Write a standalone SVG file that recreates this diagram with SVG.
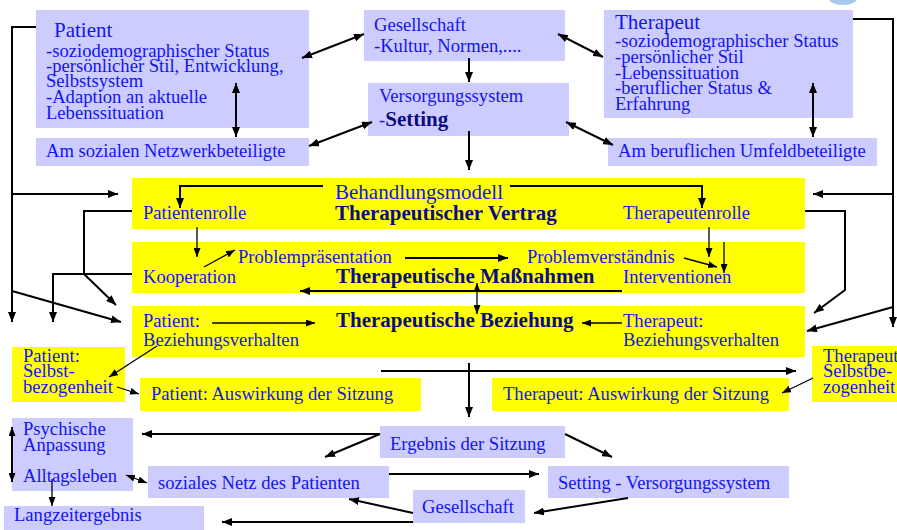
<svg xmlns="http://www.w3.org/2000/svg" width="897" height="530" viewBox="0 0 897 530">
<style>
  text { font-family: "Liberation Serif", "Times New Roman", serif; font-size: 18.6px; fill: #1414f0; }
  .t { font-size: 21px; }
  .b { font-size: 21px; font-weight: bold; fill: #0c0c80; }
  .lav { fill: #ccccff; }
  .yel { fill: #ffff00; }
  .c { stroke: #000; stroke-width: 2; fill: none; }
  .th { stroke: #000; stroke-width: 1.3; fill: none; }
</style>
<defs>
  <marker id="a" viewBox="0 0 10 8" refX="10" refY="4" markerWidth="10" markerHeight="8" markerUnits="userSpaceOnUse" orient="auto-start-reverse">
    <path d="M0,0 L10,4 L0,8 z" fill="#000"/>
  </marker>
  <marker id="s" viewBox="0 0 9 7" refX="9" refY="3.5" markerWidth="9" markerHeight="7" markerUnits="userSpaceOnUse" orient="auto-start-reverse">
    <path d="M0,0 L9,3.5 L0,7 z" fill="#000"/>
  </marker>
</defs>
<rect width="897" height="530" fill="#fff"/>
<ellipse cx="843" cy="-3" rx="15" ry="8" fill="#a9c8ee"/>

<g id="patient"><rect class="lav" x="36" y="10" width="273" height="118"/>
<text class="t" x="54" y="37">Patient</text>
<text x="46" y="57">-soziodemographischer Status</text>
<text x="46" y="72">-persönlicher Stil, Entwicklung,</text>
<text x="46" y="87">Selbstsystem</text>
<text x="46" y="103">-Adaption an aktuelle</text>
<text x="46" y="119">Lebenssituation</text></g>

<g id="netzwerk"><rect class="lav" x="36" y="138" width="273" height="28"/>
<text x="46" y="157">Am sozialen Netzwerkbeteiligte</text></g>

<g id="gesellschaft"><rect class="lav" x="364" y="10" width="201" height="51"/>
<text x="374" y="31">Gesellschaft</text>
<text x="374" y="52">-Kultur, Normen,....</text></g>

<g id="versorgung"><rect class="lav" x="368" y="83" width="201" height="53"/>
<text x="379" y="102">Versorgungssystem</text>
<text x="379" y="126">-<tspan class="b">Setting</tspan></text></g>

<g id="therapeut"><rect class="lav" x="604" y="10" width="249" height="108"/>
<text class="t" x="615" y="29">Therapeut</text>
<text x="615" y="47">-soziodemographischer Status</text>
<text x="615" y="63">-persönlicher Stil</text>
<text x="615" y="79">-Lebenssituation</text>
<text x="615" y="94">-beruflicher Status &amp;</text>
<text x="615" y="110">Erfahrung</text></g>

<g id="umfeld"><rect class="lav" x="608" y="138" width="269" height="28"/>
<text x="618" y="157">Am beruflichen Umfeldbeteiligte</text></g>

<g id="vertrag"><rect class="yel" x="132" y="178" width="673" height="51"/>
<text class="t" x="335" y="199">Behandlungsmodell</text>
<text class="b" x="335" y="220">Therapeutischer Vertrag</text>
<text x="143" y="219">Patientenrolle</text>
<text x="623" y="219">Therapeutenrolle</text></g>

<g id="massnahmen"><rect class="yel" x="132" y="242" width="673" height="51"/>
<text x="238" y="263">Problempräsentation</text>
<text x="143" y="283">Kooperation</text>
<text class="b" x="336" y="283">Therapeutische Maßnahmen</text>
<text x="527" y="263">Problemverständnis</text>
<text x="623" y="283">Interventionen</text></g>

<g id="beziehung"><rect class="yel" x="132" y="306" width="673" height="51"/>
<text x="143" y="327">Patient:</text>
<text x="143" y="346">Beziehungsverhalten</text>
<text class="b" x="336" y="327">Therapeutische Beziehung</text>
<text x="623" y="327">Therapeut:</text>
<text x="623" y="346">Beziehungsverhalten</text></g>

<g id="p-selbst"><rect class="yel" x="12" y="347" width="113" height="55"/>
<text x="23" y="362">Patient:</text>
<text x="23" y="377">Selbst-</text>
<text x="23" y="393">bezogenheit</text></g>

<g id="p-auswirkung"><rect class="yel" x="140" y="378" width="281" height="33"/>
<text x="151" y="400">Patient: Auswirkung der Sitzung</text></g>

<g id="t-auswirkung"><rect class="yel" x="492" y="378" width="297" height="33"/>
<text x="503" y="400">Therapeut: Auswirkung der Sitzung</text></g>

<g id="t-selbst"><rect class="yel" x="812" y="346" width="90" height="56"/>
<text x="823" y="362">Therapeut</text>
<text x="823" y="377">Selbstbe-</text>
<text x="823" y="393">zogenheit</text></g>

<g id="anpassung"><rect class="lav" x="12" y="418" width="121" height="73"/>
<text x="23" y="435">Psychische</text>
<text x="23" y="451">Anpassung</text>
<text x="23" y="482">Alltagsleben</text></g>

<g id="langzeit"><rect class="lav" x="4" y="506" width="200" height="30"/>
<text x="14" y="521">Langzeitergebnis</text></g>

<g id="soz-netz"><rect class="lav" x="148" y="466" width="241" height="32"/>
<text x="158" y="489">soziales Netz des Patienten</text></g>

<g id="ergebnis"><rect class="lav" x="380" y="426" width="185" height="32"/>
<text x="390" y="450">Ergebnis der Sitzung</text></g>

<g id="setting"><rect class="lav" x="548" y="466" width="241" height="32"/>
<text x="558" y="489">Setting - Versorgungssystem</text></g>

<g id="gesellschaft2"><rect class="lav" x="413" y="490" width="112" height="33"/>
<text x="422" y="513">Gesellschaft</text></g>

<g id="connectors">
  <polyline class="c" points="36,27 12,27 12,322" marker-end="url(#a)"/>
  <line class="c" x1="12" y1="194" x2="118" y2="194" marker-end="url(#a)"/>
  <line class="c" x1="12" y1="291" x2="121" y2="322" marker-end="url(#a)"/>
  <polyline class="c" points="132,211 84,211 84,274"/>
  <polyline class="c" points="132,274 53,274 53,322" marker-end="url(#a)"/>
  <line class="c" x1="84" y1="274" x2="116" y2="305" marker-end="url(#a)"/>

  <polyline class="c" points="853,19 893,19 893,327" marker-end="url(#a)"/>
  <line class="c" x1="893" y1="194" x2="813" y2="194" marker-end="url(#a)"/>
  <line class="c" x1="893" y1="307" x2="807" y2="331" marker-end="url(#a)"/>
  <polyline class="c" points="805,211 845,211 845,290 814,313" marker-end="url(#a)"/>

  <line class="c" x1="364" y1="34" x2="302" y2="58" marker-start="url(#a)" marker-end="url(#a)"/>
  <line class="c" x1="558" y1="34" x2="603" y2="57" marker-start="url(#a)" marker-end="url(#a)"/>
  <line class="c" x1="372" y1="122" x2="309" y2="146" marker-start="url(#a)" marker-end="url(#a)"/>
  <line class="c" x1="566" y1="122" x2="613" y2="145" marker-start="url(#a)" marker-end="url(#a)"/>
  <line class="c" x1="469" y1="58" x2="469" y2="82" marker-end="url(#a)"/>
  <line class="c" x1="469" y1="131" x2="469" y2="170" marker-end="url(#a)"/>
  <line class="c" x1="236" y1="83" x2="236" y2="137" marker-start="url(#a)" marker-end="url(#a)"/>
  <line class="c" x1="813" y1="83" x2="813" y2="137" marker-start="url(#a)" marker-end="url(#a)"/>

  <polyline class="c" points="323,186 180,186 180,208" marker-end="url(#a)"/>
  <polyline class="c" points="510,186 702,186 702,208" marker-end="url(#a)"/>

  <line class="th" x1="197" y1="227" x2="197" y2="257" marker-end="url(#s)"/>
  <line class="th" x1="204" y1="267" x2="235" y2="250" marker-end="url(#s)"/>
  <line class="c" x1="405" y1="258" x2="508" y2="258" marker-end="url(#a)"/>
  <line class="th" x1="709" y1="227" x2="709" y2="257" marker-end="url(#s)"/>
  <line class="th" x1="724" y1="242" x2="724" y2="273" marker-end="url(#s)"/>
  <line class="th" x1="684" y1="258" x2="717" y2="267" marker-end="url(#s)"/>
  <line class="c" x1="622" y1="291" x2="300" y2="291" marker-end="url(#a)"/>
  <line class="th" x1="477" y1="283" x2="477" y2="314" marker-start="url(#s)" marker-end="url(#s)"/>
  <line class="th" x1="212" y1="323" x2="315" y2="323" marker-end="url(#s)"/>
  <line class="th" x1="622" y1="323" x2="582" y2="323" marker-end="url(#s)"/>

  <line class="th" x1="157" y1="346" x2="109" y2="377" marker-end="url(#s)"/>
  <line class="th" x1="117" y1="387" x2="139" y2="394" marker-end="url(#s)"/>
  <line class="th" x1="813" y1="378" x2="782" y2="393" marker-end="url(#s)"/>
  <line class="c" x1="381" y1="371" x2="796" y2="371" marker-end="url(#a)"/>
  <line class="c" x1="469" y1="363" x2="469" y2="417" marker-end="url(#a)"/>

  <line class="c" x1="380" y1="434" x2="142" y2="434" marker-end="url(#a)"/>
  <line class="c" x1="380" y1="434" x2="325" y2="457" marker-end="url(#a)"/>
  <line class="c" x1="565" y1="434" x2="612" y2="457" marker-end="url(#a)"/>
  <line class="c" x1="389" y1="474" x2="539" y2="474" marker-end="url(#a)"/>
  <line class="c" x1="628" y1="498" x2="534" y2="513" marker-end="url(#a)"/>
  <line class="c" x1="413" y1="513" x2="349" y2="499" marker-end="url(#a)"/>
  <line class="c" x1="413" y1="522" x2="222" y2="522" marker-end="url(#a)"/>
  <line class="c" x1="12" y1="427" x2="12" y2="482" marker-start="url(#s)" marker-end="url(#s)"/>
  <line class="th" x1="52" y1="479" x2="52" y2="506" marker-end="url(#s)"/>
  <line class="th" x1="126" y1="475" x2="147" y2="483" marker-start="url(#s)" marker-end="url(#s)"/>
</g>
</svg>
